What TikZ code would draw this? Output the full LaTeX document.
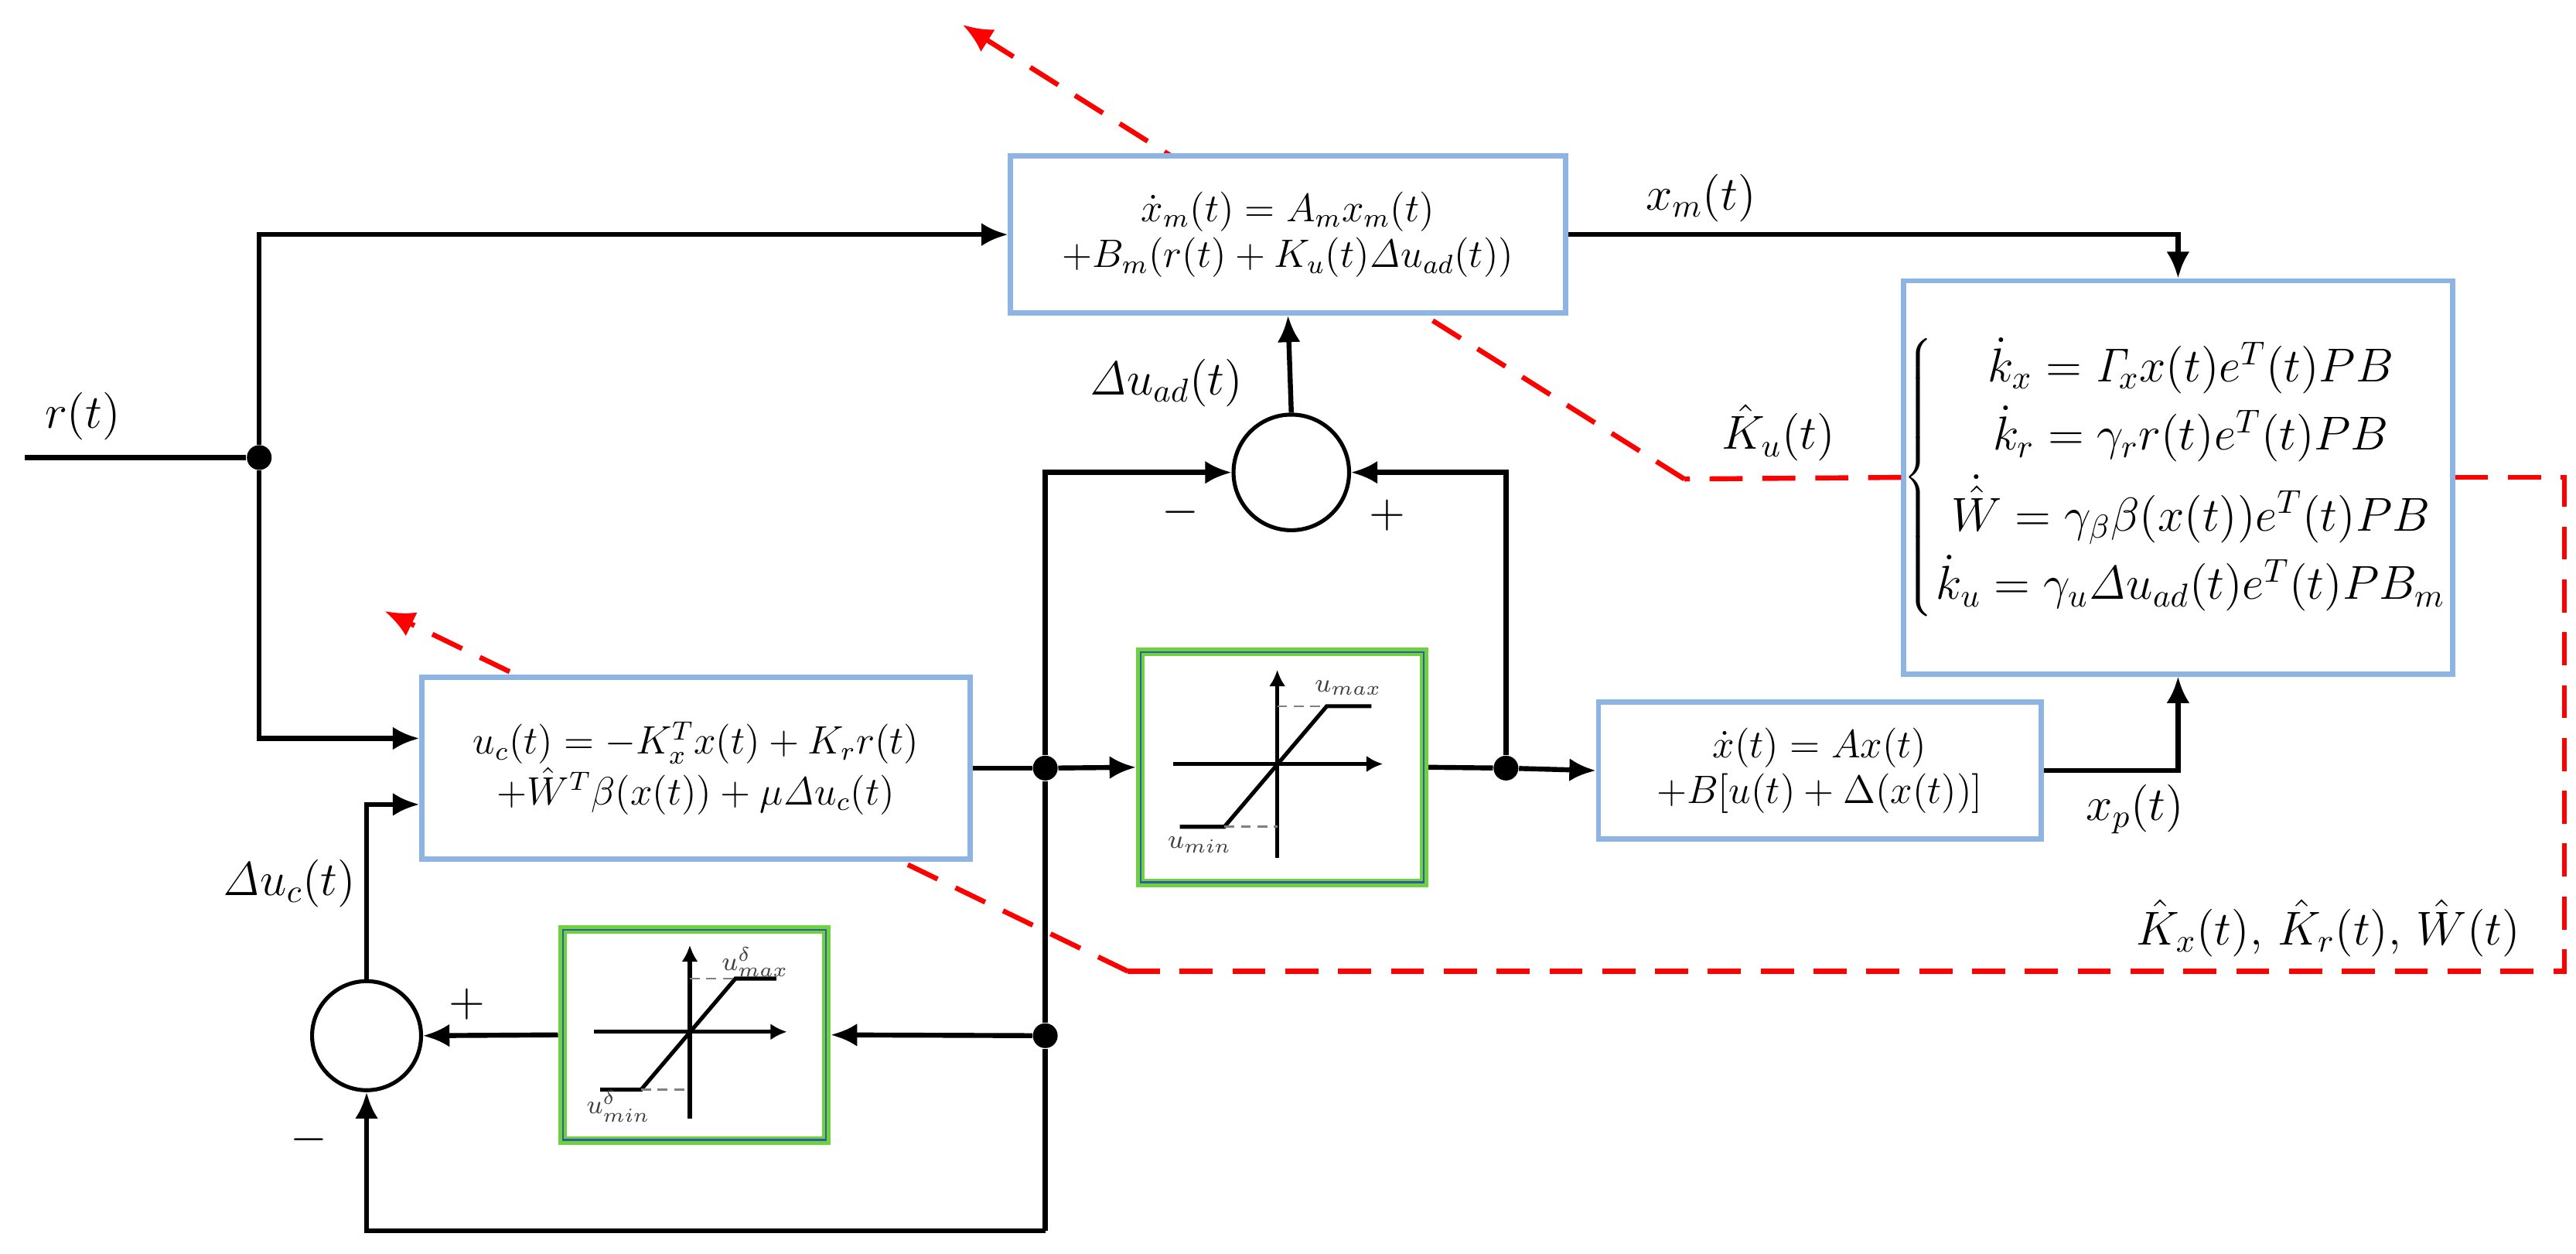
\documentclass[tikz,border=0pt]{standalone}
\usetikzlibrary{arrows.meta,calc}
\definecolor{boxblue}{RGB}{141,180,226}
\definecolor{satgreen}{RGB}{110,210,60}
\definecolor{inblue}{RGB}{50,90,170}
\newcommand\drawsat[5]{%
\begin{scope}[shift={(#1,#2)},scale=#3]
 \draw[line width=1.2pt,-{Latex[length=5pt,width=5pt]}] (-66,-2) -- (61,-2);
 \draw[line width=1.2pt,-{Latex[length=5pt,width=5pt]}] (-3,55) -- (-3,-59);
 \draw[line width=1.2pt] (-62,36) -- (-35,36) -- (27,-37) -- (54,-37);
 \draw[gray,densely dashed,line width=0.6pt] (-3,-37) -- (27,-37) (-35,36) -- (-3,36);
 \node[font=\footnotesize,text=black!75] at (40,-48) {$#4$};
 \node[font=\footnotesize,text=black!75] at (-50,47) {$#5$};
\end{scope}}
\begin{document}
\begin{tikzpicture}[x=0.5pt,y=-0.5pt,
 blk/.style={draw=boxblue,line width=1.6pt,fill=white,align=center,inner sep=2pt},
 sat/.style={draw=satgreen,line width=2.6pt,fill=white},
 sum/.style={circle,draw,line width=1.2pt,fill=white,inner sep=0pt},
 dot/.style={circle,fill,inner sep=0pt,minimum size=7.5pt},
 sig/.style={line width=1.5pt},
 arr/.style={sig,-{Latex[length=8pt,width=7pt]}},
 rd/.style={red,line width=1.5pt,dash pattern=on 10pt off 6pt},
 rda/.style={rd,-{Latex[length=9pt,width=8pt]}},
 lab/.style={font=\Large}]
\useasboundingbox (0,0) rectangle (1560,759);
\coordinate (k1) at (1020,290);
\coordinate (tip1) at (583,15);
\coordinate (c1) at (1553,289);
\coordinate (c2) at (1553,588);
\coordinate (c3) at (683,588);
\coordinate (tip2) at (233,370);
\node[blk,font=\Large,minimum width=164pt,minimum height=119pt,inner sep=0pt] (adapt) at (1319,289) {$\arraycolsep=1pt\left\{\begin{array}{c}
 \dot k_x = \mathit{\Gamma}_{\!x} x(t) e^T(t) PB\\[2pt]
 \dot k_r = \gamma_r r(t) e^T(t) PB\\[2pt]
 \dot{\hat W} = \gamma_\beta \beta\bigl(x(t)\bigr) e^T(t) PB\\[2pt]
 \dot k_u = \gamma_u \mathit{\Delta} u_{ad}(t) e^T(t) PB_m
 \end{array}\right.$};
\draw[rd] (adapt.west) -- (k1);
\draw[rda] (k1) -- (tip1);
\draw[rd] (adapt.east) -- (c1) -- (c2) -- (c3);
\draw[rda] (c3) -- (tip2);
\node[blk,font=\large,minimum width=168pt,minimum height=47.5pt] (top) at (780,142) {$\dot x_m(t) = A_m x_m(t)$\\$+B_m(r(t) + K_u(t)\mathit{\Delta} u_{ad}(t))$};
\node[blk,font=\large,minimum width=166pt,minimum height=55pt] (ctrl) at (421.5,465) {$u_c(t) = -K_x^T x(t) + K_r r(t)$\\$+\hat W^T \beta(x(t)) + \mu \mathit{\Delta} u_c(t)$};
\node[blk,font=\large,minimum width=134pt,minimum height=41.5pt] (plant) at (1102,466.5) {$\dot x(t) = Ax(t)$\\$+B[u(t) + \Delta\bigl(x(t)\bigr)]$};
\node[sat,minimum width=86pt,minimum height=70pt] (sat1) at (776.5,464.5) {};
\draw[inblue,line width=0.5pt] ($(sat1.south west)+(3,-3)$) rectangle ($(sat1.north east)+(-3,3)$);
\drawsat{776.5}{464.5}{1}{u_{max}}{u_{min}}
\node[sat,minimum width=80pt,minimum height=64pt] (sat2) at (420.5,626.5) {};
\draw[inblue,line width=0.5pt] ($(sat2.south west)+(3,-3)$) rectangle ($(sat2.north east)+(-3,3)$);
\drawsat{420.5}{626.5}{0.92}{u^\delta_{max}}{u^\delta_{min}}
\node[sum,minimum size=35pt] (sum1) at (782,286) {};
\node[sum,minimum size=33pt] (sum2) at (222,627) {};
\node[dot] (d1) at (157,277) {};
\node[dot] (d2) at (633,465) {};
\node[dot] (d3) at (912,465) {};
\node[dot] (d4) at (633,627) {};
\coordinate (rin) at (15,277);
\coordinate (bot) at (633,745);
\draw[sig] (rin) -- (d1);
\draw[arr] (d1) |- (top.west);
\draw[arr] (d1) |- ([yshift=9pt]ctrl.west);
\draw[sig] (ctrl.east) -- (d2);
\draw[arr] (d2) -- (sat1.west);
\draw[sig] (sat1.east) -- (d3);
\draw[arr] (d3) -- (plant.west);
\draw[arr] (d3) |- (sum1.east);
\draw[sig] (d4) -- (d2);
\draw[arr] (d2) |- (sum1.west);
\draw[arr] (d4) -- (sat2.east);
\draw[arr] (sat2.west) -- (sum2.east);
\draw[sig] (d4) -- (bot);
\draw[arr] (bot) -| (sum2.south);
\draw[arr] (sum2.north) |- ([yshift=-11pt]ctrl.west);
\draw[arr] (sum1.north) -- (top.south);
\draw[arr] (top.east) -| (adapt.north);
\draw[arr] (plant.east) -| (adapt.south);
\node[lab] at (50,252) {$r(t)$};
\node[lab] at (1030,120) {$x_m(t)$};
\node[lab] at (706,232) {$\mathit{\Delta} u_{ad}(t)$};
\node[lab] at (715,310) {$-$};
\node[lab] at (840,312) {$+$};
\node[lab] at (175,535) {$\mathit{\Delta} u_c(t)$};
\node[lab] at (283,608) {$+$};
\node[lab] at (187,690) {$-$};
\node[lab] at (1293,490) {$x_p(t)$};
\node[lab] at (1077,262) {$\hat K_u(t)$};
\node[lab] at (1410,562) {$\hat K_x(t)$, $\hat K_r(t)$, $\hat W(t)$};
\end{tikzpicture}
\end{document}
